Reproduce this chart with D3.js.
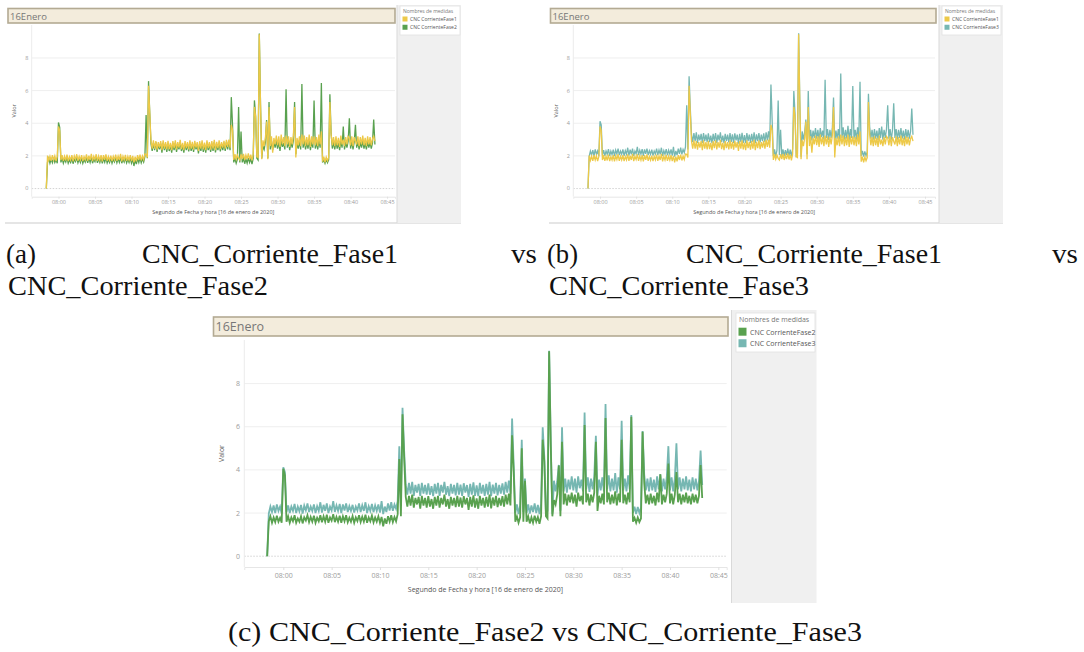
<!DOCTYPE html>
<html>
<head>
<meta charset="utf-8">
<script src="https://cdn.jsdelivr.net/npm/d3@7"></script>
<style>
  body { margin: 0; background: #fff; }
  .tab text { font-family: "Open Sans", "Noto Sans", sans-serif; }
  .cap { font-family: "Liberation Serif", "DejaVu Serif", serif; fill: #111; }
</style>
</head>
<body>
<svg id="fig" width="1084" height="652"></svg>
<script>
// sampling: one value every 10 s from 07:58:20 to 08:43:20
const startTime = "07:58:20", stepSeconds = 10;

// CNC CorrienteFase1 (one row per minute)
const fase1 = [
  0, 2.02, 1.72, 1.98,
  1.7, 2.05, 1.75, 2.0, 1.68, 1.95,
  3.8, 3.55, 1.75, 2.05, 1.7, 1.98,
  1.72, 2.08, 1.68, 1.95, 1.75, 2.05,
  1.66, 2.0, 1.78, 2.1, 1.7, 1.98,
  1.75, 2.05, 1.68, 1.96, 1.76, 2.1,
  1.7, 2.02, 1.75, 2.12, 1.68, 1.98,
  1.78, 2.1, 1.7, 2.0, 1.74, 2.05,
  1.66, 2.04, 1.76, 2.1, 1.7, 1.96,
  1.74, 2.02, 1.68, 1.98, 1.76, 2.08,
  1.7, 2.0, 1.75, 2.12, 1.66, 1.98,
  1.75, 2.06, 1.7, 1.98, 1.74, 2.04,
  1.68, 2.0, 1.6, 1.95, 1.66, 2.05,
  1.75, 2.08, 1.72, 2.0, 1.78, 2.12,
  2.1, 1.9, 6.3, 4.6, 2.9, 2.45,
  2.95, 2.45, 2.9, 2.38, 2.85, 2.5,
  2.9, 2.35, 2.95, 2.45, 2.85, 2.4,
  2.92, 2.42, 2.8, 2.35, 2.9, 2.48,
  2.95, 2.4, 2.85, 2.5, 2.98, 2.42,
  2.8, 2.35, 2.9, 2.48, 2.85, 2.4,
  2.95, 2.45, 2.86, 2.38, 2.92, 2.5,
  2.85, 2.3, 2.9, 2.45, 2.95, 2.4,
  2.82, 2.35, 2.95, 2.48, 2.85, 2.38,
  2.9, 2.45, 2.98, 2.35, 2.86, 2.48,
  2.95, 2.42, 2.85, 2.5, 2.92, 2.45,
  2.98, 2.55, 3.0, 2.5, 3.9, 3.6,
  1.75, 2.1, 1.8, 2.05, 1.85, 1.75,
  2.1, 1.8, 2.12, 1.75, 2.05, 1.8,
  2.15, 1.78, 2.08, 1.72, 2.1, 5.0,
  4.4, 1.95, 1.9, 9.45, 5.1, 1.8,
  2.95, 2.6, 3.1, 4.1, 1.8, 5.0,
  2.6, 3.2, 2.2, 3.1, 2.7, 3.25,
  2.65, 3.2, 2.55, 3.3, 2.7, 3.15,
  2.6, 3.25, 2.7, 3.2, 2.55, 3.15,
  2.7, 3.25, 5.0, 1.9, 3.1, 2.65,
  3.2, 2.6, 3.3, 2.7, 3.25, 2.6,
  3.15, 2.65, 3.3, 2.55, 3.2, 2.7,
  3.2, 2.65, 3.15, 2.6, 3.3, 2.7,
  3.5, 1.65, 1.95, 1.6, 1.92, 1.7,
  1.9, 5.3, 3.3, 2.65, 3.15, 2.6,
  3.2, 2.65, 3.1, 2.55, 3.25, 2.7,
  3.0, 2.6, 3.15, 2.7, 3.2, 3.1,
  2.65, 3.2, 2.6, 3.15, 2.9, 2.7,
  3.2, 2.6, 3.15, 2.7, 3.25, 2.65,
  3.1, 2.6, 3.2, 2.7, 3.15, 2.65,
  3.05, 3.2, 2.9
];

// CNC CorrienteFase2
const fase2 = [
  0, 1.62, 1.85, 1.55,
  1.8, 1.58, 1.88, 1.6, 1.78, 1.55,
  4.05, 3.75, 1.6, 1.85, 1.55, 1.8,
  1.62, 1.9, 1.55, 1.75, 1.6, 1.85,
  1.52, 1.8, 1.65, 1.9, 1.58, 1.82,
  1.6, 1.88, 1.55, 1.78, 1.62, 1.9,
  1.57, 1.85, 1.6, 1.92, 1.55, 1.8,
  1.65, 1.95, 1.58, 1.82, 1.6, 1.88,
  1.55, 1.85, 1.62, 1.9, 1.57, 1.78,
  1.6, 1.86, 1.55, 1.8, 1.63, 1.9,
  1.58, 1.83, 1.6, 1.92, 1.55, 1.8,
  1.62, 1.88, 1.57, 1.8, 1.6, 1.85,
  1.55, 1.82, 1.38, 1.75, 1.5, 1.85,
  1.6, 1.9, 1.58, 1.82, 1.62, 1.95,
  4.5, 1.85, 6.58, 4.6, 2.75, 2.3,
  2.8, 2.35, 2.85, 2.25, 2.7, 2.4,
  2.75, 2.2, 2.8, 2.35, 2.7, 2.25,
  2.78, 2.3, 2.65, 2.2, 2.75, 2.35,
  2.8, 2.25, 2.7, 2.4, 2.85, 2.3,
  2.65, 2.2, 2.75, 2.35, 2.7, 2.28,
  2.8, 2.3, 2.72, 2.25, 2.78, 2.4,
  2.7, 2.15, 2.75, 2.3, 2.82, 2.25,
  2.68, 2.2, 2.8, 2.35, 2.7, 2.25,
  2.75, 2.3, 2.85, 2.22, 2.72, 2.35,
  2.8, 2.28, 2.7, 2.35, 2.78, 2.3,
  2.85, 2.4, 2.9, 2.35, 5.6, 3.9,
  1.6, 1.85, 1.55, 1.8, 5.0, 1.6,
  3.5, 1.6, 1.85, 1.52, 1.8, 1.55,
  1.88, 1.6, 1.82, 1.5, 1.85, 5.4,
  4.4, 1.85, 1.75, 9.5, 5.15, 1.85,
  2.6, 2.4, 2.85, 4.2, 1.85, 5.3,
  2.4, 2.9, 2.35, 2.85, 2.5, 2.95,
  2.45, 2.85, 2.3, 2.95, 2.55, 2.8,
  2.4, 6.08, 2.5, 2.9, 2.35, 2.85,
  2.5, 2.95, 5.3, 2.1, 2.8, 2.45,
  2.9, 2.4, 6.4, 2.5, 2.95, 2.4,
  2.85, 2.45, 3.0, 2.35, 2.9, 2.5,
  5.4, 2.45, 2.85, 2.4, 2.95, 2.5,
  6.46, 1.6, 1.78, 1.55, 1.8, 1.58,
  1.75, 5.77, 3.4, 2.45, 2.85, 2.4,
  2.9, 2.45, 2.8, 2.35, 2.95, 2.5,
  3.8, 2.4, 2.85, 2.5, 2.9, 4.3,
  2.45, 2.9, 2.4, 2.85, 3.9, 2.5,
  2.9, 2.4, 2.85, 2.5, 2.95, 2.45,
  2.8, 2.4, 2.9, 2.5, 2.85, 2.45,
  2.8, 4.23, 2.7
];

// CNC CorrienteFase3
const fase3 = [
  0, 1.98, 2.3, 2.05,
  2.35, 2.0, 2.4, 2.1, 2.3, 1.98,
  4.12, 3.9, 2.05, 2.35, 2.0, 2.3,
  2.1, 2.42, 2.0, 2.3, 2.08, 2.38,
  1.98, 2.35, 2.12, 2.45, 2.05, 2.3,
  2.1, 2.4, 2.0, 2.32, 2.1, 2.5,
  2.02, 2.38, 2.1, 2.45, 2.0, 2.3,
  2.12, 2.55, 2.05, 2.35, 2.1, 2.42,
  2.0, 2.4, 2.12, 2.45, 2.05, 2.32,
  2.1, 2.38, 2.02, 2.3, 2.12, 2.45,
  2.05, 2.36, 2.1, 2.5, 2.0, 2.32,
  2.1, 2.42, 2.04, 2.35, 2.1, 2.4,
  2.02, 2.55, 1.95, 2.3, 2.05, 2.45,
  2.12, 2.5, 2.1, 2.4, 2.2, 2.55,
  5.1, 2.4, 6.88, 4.9, 3.3, 2.85,
  3.4, 2.9, 3.45, 2.8, 3.3, 2.95,
  3.35, 2.8, 3.4, 2.9, 3.3, 2.85,
  3.38, 2.85, 3.25, 2.78, 3.35, 2.9,
  3.4, 2.8, 3.3, 2.95, 3.45, 2.85,
  3.25, 2.78, 3.35, 2.9, 3.3, 2.82,
  3.4, 2.85, 3.32, 2.8, 3.38, 2.95,
  3.3, 2.75, 3.35, 2.85, 3.42, 2.8,
  3.28, 2.78, 3.4, 2.9, 3.3, 2.8,
  3.35, 2.85, 3.45, 2.78, 3.32, 2.9,
  3.4, 2.82, 3.3, 2.9, 3.38, 2.85,
  3.45, 2.95, 3.5, 2.9, 6.38, 4.2,
  2.0, 2.4, 1.95, 2.35, 5.4, 2.05,
  3.6, 2.0, 2.4, 1.98, 2.35, 2.05,
  2.45, 2.0, 2.38, 1.95, 2.42, 5.97,
  4.6, 2.0, 2.1, 9.52, 5.3, 1.95,
  3.5, 3.0, 3.45, 4.23, 2.1, 5.97,
  3.0, 3.6, 2.95, 3.55, 3.1, 3.7,
  3.05, 3.6, 2.95, 3.7, 3.15, 3.55,
  3.0, 6.66, 3.1, 3.65, 2.98, 3.6,
  3.1, 3.7, 5.58, 2.8, 3.55, 3.05,
  3.65, 3.0, 7.05, 3.1, 3.75, 3.0,
  3.6, 3.05, 3.85, 2.95, 3.65, 3.1,
  6.28, 3.05, 3.6, 3.0, 3.75, 3.1,
  6.54, 2.0, 2.3, 1.95, 2.28, 2.0,
  2.25, 5.8, 3.8, 3.05, 3.6, 3.0,
  3.65, 3.05, 3.55, 2.98, 3.7, 3.1,
  3.8, 3.0, 3.6, 3.1, 3.65, 5.1,
  3.05, 3.65, 3.0, 3.6, 5.23, 3.1,
  3.65, 3.0, 3.6, 3.1, 3.7, 3.05,
  3.55, 3.0, 3.65, 3.1, 3.6, 3.05,
  3.5, 4.9, 3.3
];

const seriesLabels = { fase1: "CNC CorrienteFase1", fase2: "CNC CorrienteFase2", fase3: "CNC CorrienteFase3" };
const seriesColors = { fase1: "#edc948", fase2: "#59a14f", fase3: "#76b7b2" };
const yTicks = [0, 2, 4, 6, 8];
const yDomain = [-0.5, 10.02];
const chartTitle = "16Enero";
const legendTitle = "Nombres de medidas";
const yTitle = "Valor";
const xTitle = "Segundo de Fecha y hora [16 de enero de 2020]";

const svg = d3.select("#fig");
const parse = d3.timeParse("%H:%M:%S");
const t0 = parse(startTime);
const times = fase1.map((d, i) => d3.timeSecond.offset(t0, i * stepSeconds));
const data = { fase1, fase2, fase3 };

const panels = [
  { series: ["fase1", "fase2"], card: [5, 5, 392, 218], bottomLine: true,
    titleBar: [8, 8.5, 387, 14.5], titleSize: 9.5,
    side: [397, 5, 64, 218], legend: [400, 6, 60, 29], legSize: 5, sw: 5,
    plot: { l: 31.7, r: 395, t: 25, b: 196.7 }, xDom: ["07:56:20", "08:46:05"],
    font: 5.5, tick: 2, pad: 1.2, yLabX: 28.5, yTitleX: 16, xTitleY: 214, lw: 1.3 },
  { series: ["fase1", "fase3"], card: [549, 5, 390, 218], bottomLine: true,
    titleBar: [550.5, 8.5, 385.5, 14.5], titleSize: 9.5,
    side: [939, 5, 64, 218], legend: [942, 6, 59, 29], legSize: 5, sw: 5,
    plot: { l: 573.3, r: 935, t: 25, b: 196.7 }, xDom: ["07:56:18", "08:46:23"],
    font: 5.5, tick: 2, pad: 1.2, yLabX: 570, yTitleX: 558, xTitleY: 214, lw: 1.3 },
  { series: ["fase2", "fase3"], card: [213, 310, 518, 293], bottomLine: false,
    titleBar: [213.5, 317, 514.5, 19], titleSize: 12.5,
    side: [731.5, 310, 85, 293], legend: [736, 313, 79, 39], legSize: 7, sw: 8,
    plot: { l: 244.3, r: 726.7, t: 340, b: 567 }, xDom: ["07:55:58", "08:45:52"],
    font: 7, tick: 3, pad: 3, yLabX: 240, yTitleX: 224, xTitleY: 591.5, lw: 1.8 }
];

function drawPanel(p) {
  const g = svg.append("g").attr("class", "tab");
  const [cx, cy, cw, ch] = p.card;
  g.append("rect").attr("x", cx).attr("y", cy).attr("width", cw).attr("height", ch).attr("fill", "#fff");
  if (p.bottomLine) {
    g.append("line").attr("x1", cx).attr("x2", p.side[0] + p.side[2]).attr("y1", cy + ch).attr("y2", cy + ch)
      .attr("stroke", "#dcdcdc").attr("stroke-width", 1.5);
  }
  // right sidebar with legend
  const [sx, sy, sw, sh] = p.side;
  g.append("rect").attr("x", sx).attr("y", sy).attr("width", sw).attr("height", sh).attr("fill", "#f0f0f0");
  g.append("line").attr("x1", sx).attr("x2", sx).attr("y1", sy).attr("y2", sy + sh).attr("stroke", "#d9d9d9");
  const [lx, ly, lw, lh] = p.legend;
  g.append("rect").attr("x", lx).attr("y", ly).attr("width", lw).attr("height", lh)
    .attr("fill", "#fff").attr("stroke", "#e2e2e2").attr("stroke-width", 0.8);
  const fs = p.legSize;
  g.append("text").attr("x", lx + 3).attr("y", ly + fs * 1.35).attr("font-size", fs).attr("fill", "#777").text(legendTitle);
  p.series.forEach((k, i) => {
    const iy = ly + fs * 2.1 + i * fs * 1.65;
    g.append("rect").attr("x", lx + 2.5).attr("y", iy).attr("width", p.sw).attr("height", p.sw).attr("fill", seriesColors[k]);
    g.append("text").attr("x", lx + 2.5 + p.sw + fs * 0.5).attr("y", iy + p.sw * 0.85)
      .attr("font-size", fs).attr("fill", "#555").text(seriesLabels[k]);
  });

  // title bar
  const [tx, ty, tw, th] = p.titleBar;
  g.append("rect").attr("x", tx).attr("y", ty).attr("width", tw).attr("height", th)
    .attr("fill", "#f3ecdc").attr("stroke", "#b3aa93").attr("stroke-width", 1.6);
  g.append("text").attr("x", tx + 2).attr("y", ty + th * 0.76).attr("font-size", p.titleSize)
    .attr("fill", "#777").text(chartTitle);

  const P = p.plot;
  const x = d3.scaleTime().domain(p.xDom.map(parse)).range([P.l, P.r]);
  const y = d3.scaleLinear().domain(yDomain).range([P.b, P.t]);

  // gridlines
  g.selectAll(".grid").data(yTicks.filter(d => d > 0)).join("line")
    .attr("x1", P.l).attr("x2", P.r).attr("y1", d => y(d)).attr("y2", d => y(d))
    .attr("stroke", "#efefef").attr("stroke-width", 1);
  g.append("line").attr("x1", P.l).attr("x2", P.r).attr("y1", y(0)).attr("y2", y(0))
    .attr("stroke", "#c8c8c8").attr("stroke-width", 0.8).attr("stroke-dasharray", "1.5,1.5");
  g.append("line").attr("x1", P.l).attr("x2", P.l).attr("y1", P.t).attr("y2", P.b)
    .attr("stroke", "#ececec").attr("stroke-width", 1);

  // x axis
  const xa = g.append("g").attr("transform", `translate(0,${P.b})`)
    .call(d3.axisBottom(x).ticks(d3.timeMinute.every(5)).tickFormat(d3.timeFormat("%H:%M"))
      .tickSize(p.tick).tickPadding(p.pad));
  xa.attr("font-family", null);
  xa.select(".domain").attr("stroke", "#e6e6e6");
  xa.selectAll(".tick line").attr("stroke", "#e0e0e0");
  xa.selectAll("text").attr("font-size", p.font).attr("fill", "#9c9c9c");

  // y labels
  g.selectAll(".ylab").data(yTicks).join("text")
    .attr("x", p.yLabX).attr("y", d => y(d)).attr("dy", "0.35em").attr("text-anchor", "end")
    .attr("font-size", p.font).attr("fill", "#9c9c9c").text(d => d);

  // axis titles
  g.append("text").attr("transform", `translate(${p.yTitleX},${(P.t + P.b) / 2}) rotate(-90)`)
    .attr("text-anchor", "middle").attr("font-size", p.font).attr("fill", "#555").text(yTitle);
  g.append("text").attr("x", (P.l + P.r) / 2).attr("y", p.xTitleY).attr("text-anchor", "middle")
    .attr("font-size", p.font).attr("fill", "#555").text(xTitle);

  // series, first legend entry drawn on top
  const line = d3.line().x((d, i) => x(times[i])).y(d => y(d));
  p.series.slice().reverse().forEach(k => {
    g.append("path").datum(data[k]).attr("d", line).attr("fill", "none")
      .attr("stroke", seriesColors[k]).attr("stroke-width", p.lw).attr("stroke-linejoin", "miter");
  });
}
panels.forEach(drawPanel);

// LaTeX-like subcaptions
const caps = [
  { t: "(a)", x: 6, y: 263, w: 30 },
  { t: "CNC_Corriente_Fase1", x: 142, y: 263, w: 256 },
  { t: "vs", x: 511, y: 263, w: 26 },
  { t: "CNC_Corriente_Fase2", x: 8, y: 295, w: 260 },
  { t: "(b)", x: 547, y: 263, w: 31 },
  { t: "CNC_Corriente_Fase1", x: 686, y: 263, w: 256 },
  { t: "vs", x: 1052, y: 263, w: 26 },
  { t: "CNC_Corriente_Fase3", x: 549, y: 295, w: 260 },
  { t: "(c) CNC_Corriente_Fase2 vs CNC_Corriente_Fase3", x: 228, y: 641, w: 634 }
];
svg.selectAll(".cap").data(caps).join("text").attr("class", "cap")
  .attr("x", d => d.x).attr("y", d => d.y).attr("font-size", 26.5)
  .attr("textLength", d => d.w).attr("lengthAdjust", "spacingAndGlyphs").text(d => d.t);
</script>
</body>
</html>
